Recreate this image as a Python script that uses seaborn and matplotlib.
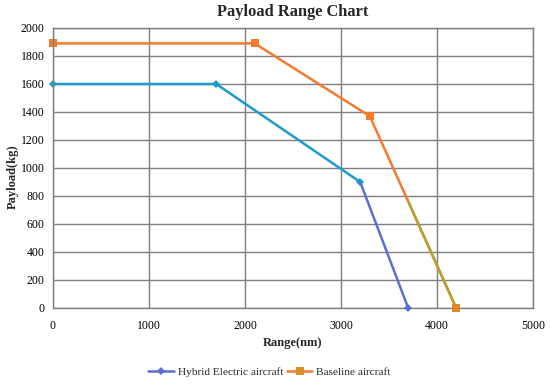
import matplotlib
matplotlib.use("Agg")
import matplotlib.pyplot as plt
import matplotlib.transforms as mtransforms
import seaborn as sns
import pandas as pd
from matplotlib.lines import Line2D

hybrid_range = [0, 1700, 3200, 3700]
hybrid_payload = [1600, 1600, 900, 0]
base_range = [0, 2100, 3300, 4200]
base_payload = [1890, 1890, 1370, 0]
x_ticks = [0, 1000, 2000, 3000, 4000, 5000]
y_ticks = [0, 200, 400, 600, 800, 1000, 1200, 1400, 1600, 1800, 2000]

sns.set_theme(style="white")
plt.rcParams['font.family'] = ['Liberation Serif', 'DejaVu Serif']

fig = plt.figure(figsize=(5.5, 3.84), dpi=100)
ax = fig.add_axes([53 / 550, 1 - 308 / 384, 480 / 550, 280 / 384])

h_main = "#1e9cc9"
h_last = "#5a6fd5"
b_main = "#f47a2e"
b_last = "#b3a233"

hdf = pd.DataFrame({"x": hybrid_range, "y": hybrid_payload})
bdf = pd.DataFrame({"x": base_range, "y": base_payload})

sns.lineplot(data=hdf.iloc[:3], x="x", y="y", ax=ax, color=h_main, lw=1.8,
             marker="D", markersize=4.5, markeredgewidth=0, sort=False)
sns.lineplot(data=hdf.iloc[2:], x="x", y="y", ax=ax, color=h_last, lw=1.8,
             sort=False)
ax.plot(hybrid_range[3:], hybrid_payload[3:], marker="D", color=h_last, ms=4.5,
        mew=0, ls="none", zorder=5)

sns.lineplot(data=bdf.iloc[:3], x="x", y="y", ax=ax, color=b_main, lw=1.8,
             marker="s", markersize=5.5, markeredgewidth=0, sort=False)
sns.lineplot(data=bdf.iloc[2:], x="x", y="y", ax=ax, color=b_main, lw=1.8,
             sort=False)
for l in ax.lines:
    l.set_clip_on(False)

# olive tail of baseline line beyond x = 3700
tail, = ax.plot(base_range[2:], base_payload[2:], color=b_last, lw=1.8, zorder=4)
trans = mtransforms.blended_transform_factory(ax.transData, ax.transAxes)
clip = matplotlib.patches.Rectangle((hybrid_range[3], -0.05), 2000, 1.1,
                                    transform=trans, visible=False)
ax.add_patch(clip)
tail.set_clip_path(clip)
ax.plot(base_range[3:], base_payload[3:], marker="s", color="#e0882e", ms=5.5,
        mew=0, ls="none", zorder=6, clip_on=False)

ax.set_xlim(0, 5000)
ax.set_ylim(0, 2000)
ax.set_xticks(x_ticks)
ax.set_yticks(y_ticks)
ax.grid(True, color="#7f7f7f", lw=1)
ax.set_axisbelow(True)
for s in ax.spines.values():
    s.set_color("#7f7f7f")
    s.set_linewidth(1)
ax.tick_params(axis="both", labelsize=8.5, length=0, pad=6, colors="black")
ax.tick_params(axis="x", pad=8.5)
ax.set_xlabel("Range(nm)", fontsize=9, fontweight="bold", labelpad=4)
ax.set_ylabel("Payload(kg)", fontsize=9, fontweight="bold")
ax.yaxis.set_label_coords(-0.072, 0.47)
ax.set_title("Payload Range Chart", fontsize=11.8, fontweight="bold", pad=9)

handles = [
    Line2D([], [], color=h_last, lw=1.8, marker="D", ms=4.5, mew=0),
    Line2D([], [], color=b_main, lw=1.8, marker="s", ms=5.5, mew=0, markerfacecolor="#d9902a"),
]
fig.legend(handles, ["Hybrid Electric aircraft", "Baseline aircraft"], loc="center",
           bbox_to_anchor=(0.49, 0.031), ncol=2, frameon=False, fontsize=8.2,
           handlelength=2.2, columnspacing=0.35, handletextpad=0.35,
           borderpad=0, borderaxespad=0)

fig.savefig("out.png", dpi=100)
